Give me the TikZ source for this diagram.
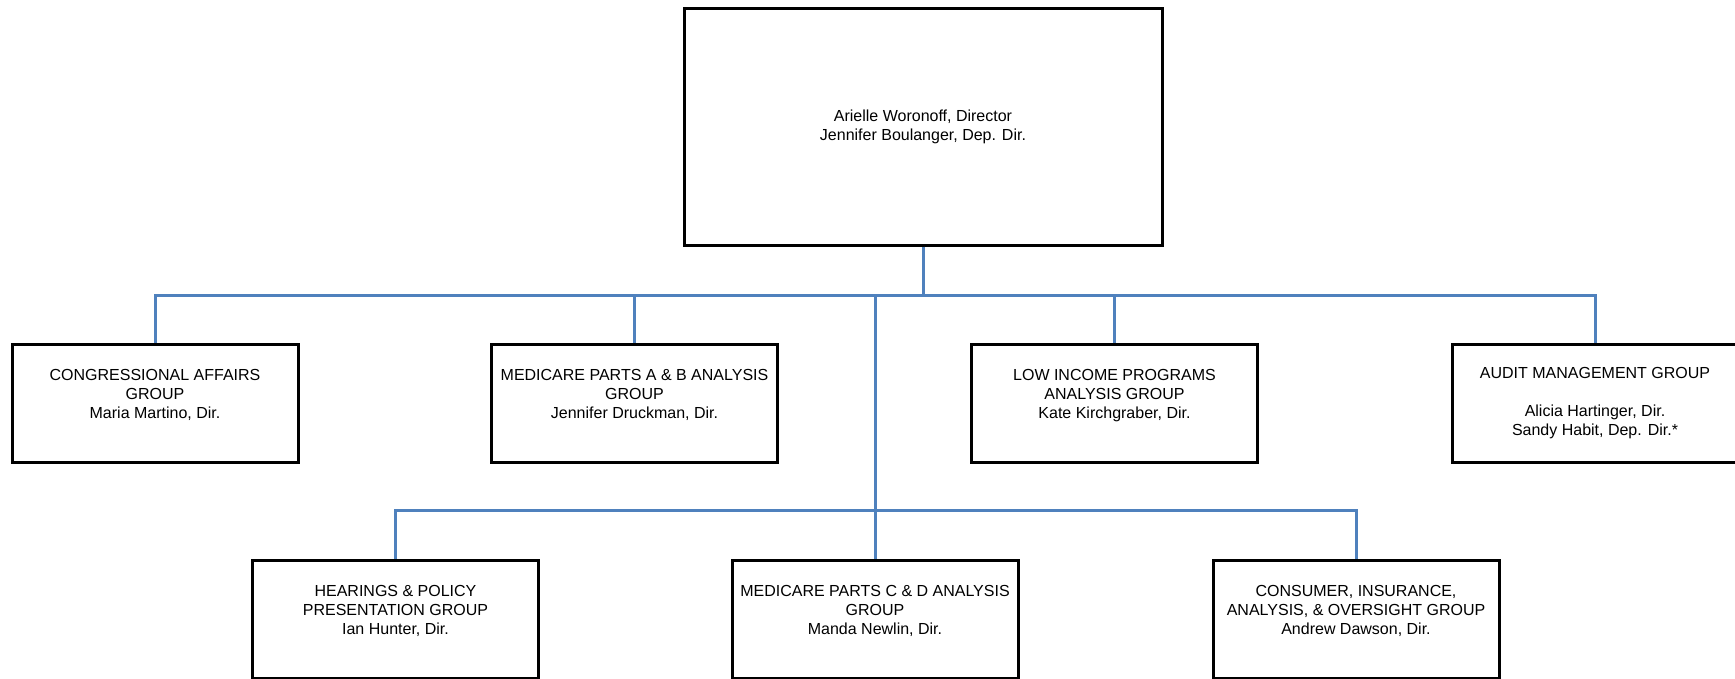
\documentclass[tikz,border=0pt]{standalone}
\usepackage{fontspec}
\setmainfont{Liberation Sans}
\definecolor{lineBlue}{RGB}{79,129,189}
\tikzset{
	orgBox/.style={rectangle, draw=black, line width=3pt, minimum width=286pt, minimum height=118pt, inner sep=2pt, align=center, font=\fontsize{16}{19}\selectfont},
	orgLine/.style={draw=lineBlue, line width=3pt}
}
\begin{document}
\begin{tikzpicture}[x=1pt, y=-1pt]
	\useasboundingbox (0,0) rectangle (1735,678);

	\node[orgBox, minimum width=478pt, minimum height=237pt](director) at (923,126.5){Arielle Woronoff, Director\\Jennifer Boulanger, Dep. Dir.};

	\node[orgBox](congAffairs) at (155,403){CONGRESSIONAL AFFAIRS\\GROUP\\Maria Martino, Dir.\\\mbox{}};
	\node[orgBox](partsAB) at (634.5,403){MEDICARE PARTS A \& B ANALYSIS\\GROUP\\Jennifer Druckman, Dir.\\\mbox{}};
	\node[orgBox](lowIncome) at (1114.5,403){LOW INCOME PROGRAMS\\ANALYSIS GROUP\\Kate Kirchgraber, Dir.\\\mbox{}};
	\node[orgBox](auditMgmt) at (1595,403){AUDIT MANAGEMENT GROUP\\\mbox{}\\Alicia Hartinger, Dir.\\Sandy Habit, Dep. Dir.*};

	\node[orgBox](hearings) at (395.5,619){HEARINGS \& POLICY\\PRESENTATION GROUP\\Ian Hunter, Dir.\\\mbox{}};
	\node[orgBox](partsCD) at (875,619){MEDICARE PARTS C \& D ANALYSIS\\GROUP\\Manda Newlin, Dir.\\\mbox{}};
	\node[orgBox](consumer) at (1356,619){CONSUMER, INSURANCE,\\ANALYSIS, \& OVERSIGHT GROUP\\Andrew Dawson, Dir.\\\mbox{}};


	\coordinate(upperBar) at (923,295.5);
	\coordinate(lowerBar) at (875,510);
	\draw[orgLine](director.south) -- (upperBar);
	\draw[orgLine](congAffairs.north) |- (upperBar);
	\draw[orgLine](partsAB.north) |- (upperBar);
	\draw[orgLine](lowIncome.north) |- (upperBar);
	\draw[orgLine](auditMgmt.north) |- (upperBar);
	\draw[orgLine](partsCD.north) |- (upperBar);

	\draw[orgLine](hearings.north) |- (lowerBar);
	\draw[orgLine](consumer.north) |- (lowerBar);


\end{tikzpicture}
\end{document}
